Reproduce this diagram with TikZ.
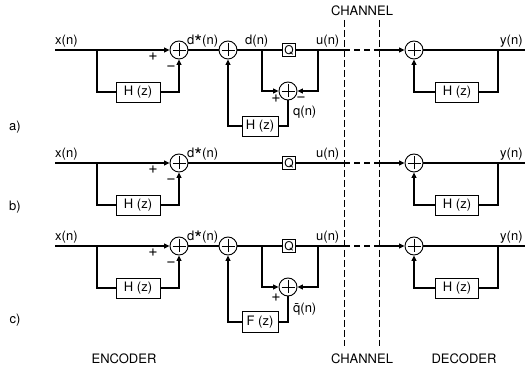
\documentclass[tikz,border=0pt]{standalone}
\usepackage{fontspec}
\setmainfont{TeX Gyre Heros}
\usetikzlibrary{arrows.meta,calc,positioning}
\tikzset{
 dpcm/.style={font=\fontsize{13}{15}\selectfont,line cap=butt,line join=miter},
 sig/.style={draw=black,line width=1.2pt},
 arr/.style={sig,-{Triangle[length=5.5pt,width=5pt]}},
 sumnode/.style={circle,draw=black,line width=.9pt,fill=white,inner sep=0pt,minimum size=18pt,
   path picture={\draw[line width=.9pt] (path picture bounding box.center) ++(0,6.5pt) -- ++(0,-13pt)
     (path picture bounding box.center) ++(-6.5pt,0) -- ++(13pt,0);}},
 filt/.style={rectangle,draw=black,line width=.9pt,fill=white,inner sep=0pt,minimum height=20pt},
 quant/.style={rectangle,draw=black,line width=.9pt,fill=white,inner sep=0pt,minimum size=13pt,
   font=\fontsize{12}{13}\selectfont},
 lbl/.style={anchor=base west,inner sep=0pt},
 sgn/.style={font=\fontsize{16}{17}\selectfont,inner sep=0pt},
 chan/.style={draw=black,line width=.6pt,dash pattern=on 7pt off 3pt},
 link/.style={sig,dash pattern=on 6pt off 4pt},
 caption/.style={inner sep=0pt}
}
\newcommand{\bigast}{\raisebox{-4.5pt}{\fontsize{20}{20}\selectfont *}}
% input difference stage, #1 row tag, #2 row height
\newcommand{\diffStage}[2]{%
 \begin{scope}[shift={(0,#2)}]
 \coordinate (in#1) at (55,0); \coordinate (bx#1) at (97,0);
 \node[sumnode] (sa#1) at (179,0) {};
 \node[filt,minimum width=44pt] (ha#1) at (138,42) {H (z)};
 \draw[sig] (in#1) -- (bx#1);
 \draw[arr] (bx#1) -- (sa#1);
 \draw[sig] (bx#1) |- (ha#1);
 \draw[arr] (ha#1) -| (sa#1);
 \node[lbl] (xl#1) at (55,-5) {x(n)};
 \node[lbl] (dsl#1) at (187,-5) {d\bigast(n)};
 \node[sgn] (pa#1) at (153,7) {+};
 \node[sgn] (ma#1) at (171,18) {\textminus};
 \end{scope}}
% channel link and decoder, #1 row tag, #2 row height
\newcommand{\decStage}[2]{%
 \begin{scope}[shift={(0,#2)}]
 \coordinate (cl#1) at (344,0); \coordinate (cr#1) at (379,0);
 \coordinate (by#1) at (498,0); \coordinate (out#1) at (525,0);
 \node[sumnode] (sd#1) at (414,0) {};
 \node[filt,minimum width=43pt] (hd#1) at (457,42) {H (z)};
 \draw[sig] (u#1) -- (cl#1);
 \draw[link] (cl#1) -- (cr#1);
 \draw[arr] (cr#1) -- (sd#1);
 \draw[sig] (sd#1) -- (out#1);
 \draw[sig] (by#1) |- (hd#1);
 \draw[arr] (hd#1) -| (sd#1);
 \node[lbl] (ul#1) at (316,-5) {u(n)};
 \node[lbl] (yl#1) at (500,-5) {y(n)};
 \end{scope}}

\begin{document}
\begin{tikzpicture}[dpcm,x=1pt,y=-1pt]
 \useasboundingbox (0,0) rectangle (525,371);
 % a) noise feedback around the quantizer
 \diffStage{A}{50}
 \node[sumnode] (sbA) at (228,50) {};
 \node[quant] (qA) at (289,50) {Q};
 \coordinate (dA) at (262,50); \coordinate (uA) at (318,50);
 \node[sumnode] (seA) at (288,91) {};
 \node[filt,minimum width=36pt] (hbA) at (260,126) {H (z)};
 \draw[sig] (saA) -- (sbA);
 \draw[sig] (sbA) -- (qA) -- (uA);
 \draw[arr] (dA) |- (seA);
 \draw[arr] (uA) |- (seA);
 \draw[sig] (seA) |- (hbA);
 \draw[arr] (hbA) -| (sbA);
 \node[lbl] (dlA) at (245,45) {d(n)};
 \node[sgn] (peA) at (276,99) {+};
 \node[sgn] (meA) at (301,99) {\textminus};
 \node[lbl] (qlA) at (293,116) {q(n)};
 \decStage{A}{50}
 % b) plain predictive coder
 \diffStage{B}{163}
 \node[quant] (qB) at (289,163) {Q};
 \coordinate (uB) at (318,163);
 \draw[sig] (saB) -- (qB) -- (uB);
 \decStage{B}{163}
 % c) shaped noise feedback
 \diffStage{C}{246}
 \node[sumnode] (sbC) at (228,246) {};
 \node[quant] (qC) at (289,246) {Q};
 \coordinate (dC) at (262,246); \coordinate (uC) at (318,246);
 \node[sumnode] (seC) at (288,287) {};
 \node[filt,minimum width=36pt,minimum height=21pt] (fbC) at (260,322) {F (z)};
 \draw[sig] (saC) -- (sbC);
 \draw[sig] (sbC) -- (qC) -- (uC);
 \draw[arr] (dC) |- (seC);
 \draw[arr] (uC) |- (seC);
 \draw[sig] (seC) |- (fbC);
 \draw[arr] (fbC) -| (sbC);
 \node[sgn] (peC) at (276,298) {+};
 \node[lbl] (qlC) at (293,313) {\=q(n)};
 \decStage{C}{246}
 % channel borders
 \coordinate (ct1) at (344,20); \coordinate (cb1) at (344,346);
 \coordinate (ct2) at (379,20); \coordinate (cb2) at (379,346);
 \draw[chan] (ct1) -- (cb1);
 \draw[chan] (ct2) -- (cb2);
 \node[caption] (chTop) at (362,11) {CHANNEL};
 \node[caption] (chBot) at (362,359) {CHANNEL};
 \node[caption] (enc) at (124,359) {ENCODER};
 \node[caption] (dec) at (464,359) {DECODER};
 \node[caption] (tagA) at (15,127) {a)};
 \node[caption] (tagB) at (15,207) {b)};
 \node[caption] (tagC) at (15,320) {c)};
\end{tikzpicture}
\end{document}
